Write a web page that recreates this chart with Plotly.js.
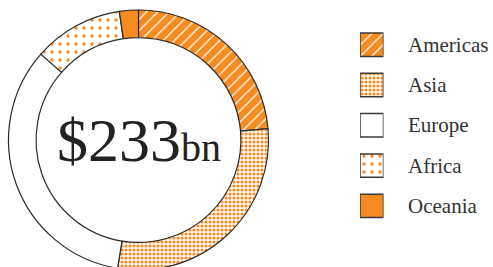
<!DOCTYPE html>
<html>
<head>
<meta charset="utf-8">
<script src="https://cdn.plot.ly/plotly-3.0.1.min.js"></script>
<style>
html,body{margin:0;padding:0;overflow:hidden;background:#fff;}
#chart{width:493px;height:280px;}
</style>
</head>
<body>
<div id="chart"></div>
<script>
const regions = ['Americas', 'Asia', 'Europe', 'Africa', 'Oceania'];
const values = [55, 67.5, 79, 26, 5.5];
const totalLabel = '$233';
const unitLabel = 'bn';

const ORANGE = '#F68B1F';
const W = 493, H = 280;
const bg = [ORANGE, '#ffffff', '#ffffff', '#ffffff', ORANGE];
const fg = ['#ffffff', ORANGE, ORANGE, ORANGE, ORANGE];
const shapes = ['/', '.', '', '.', ''];
const sizes = [8, 4, 8, 8, 8];
const solid = [0.15, 0.5, 0.1, 0.14, 0.1];

const pie = {
  type: 'pie',
  labels: regions,
  values: values,
  sort: false,
  direction: 'clockwise',
  rotation: 0,
  hole: 0.788,
  textinfo: 'none',
  hoverinfo: 'none',
  showlegend: false,
  marker: {
    colors: bg, line: { color: '#2b2b2b', width: 1.2 },
    pattern: { shape: shapes, bgcolor: bg, fgcolor: fg, fgopacity: 1, size: sizes, solidity: solid, fillmode: 'overlay' }
  },
  domain: { x: [8.5 / W, 268.5 / W], y: [10 / H, 270 / H] }
};

const legendBars = regions.map((r, i) => ({
  type: 'bar',
  orientation: 'h',
  y: [r],
  x: [1],
  base: 0,
  width: 0.58,
  hoverinfo: 'none',
  showlegend: false,
  marker: {
    color: bg[i], line: { color: '#3a3a3a', width: 1.5 },
    pattern: { shape: shapes[i], bgcolor: bg[i], fgcolor: fg[i], fgopacity: 1, size: sizes[i], solidity: solid[i], fillmode: 'overlay' }
  },
  xaxis: 'x', yaxis: 'y'
}));

const labelAnns = regions.map(r => ({
  xref: 'paper', yref: 'y', x: 406 / W, y: r, xanchor: 'left', yanchor: 'middle',
  text: r, showarrow: false,
  font: { family: 'Liberation Serif, serif', size: 21, color: '#333' }
}));

const centerAnn = {
  xref: 'paper', yref: 'paper', x: 139 / W, y: 0.5, xanchor: 'center', yanchor: 'middle',
  text: totalLabel + "<span style='font-size:40px'>" + unitLabel + "</span>",
  showarrow: false,
  font: { family: 'Liberation Serif, serif', size: 62, color: '#222' }
};

const layout = {
  width: W, height: H,
  margin: { l: 0, r: 0, t: 0, b: 0 },
  paper_bgcolor: '#fff', plot_bgcolor: '#fff',
  barmode: 'overlay',
  xaxis: { domain: [360 / W, 383.5 / W], range: [0, 1], visible: false, fixedrange: true },
  yaxis: { type: 'category', categoryarray: regions, categoryorder: 'array', range: [5.839, -1.109], visible: false, fixedrange: true },
  annotations: labelAnns.concat([centerAnn]),
  bargap: 0
};

Plotly.newPlot('chart', [pie].concat(legendBars), layout, { staticPlot: true, displayModeBar: false });
</script>
</body>
</html>
